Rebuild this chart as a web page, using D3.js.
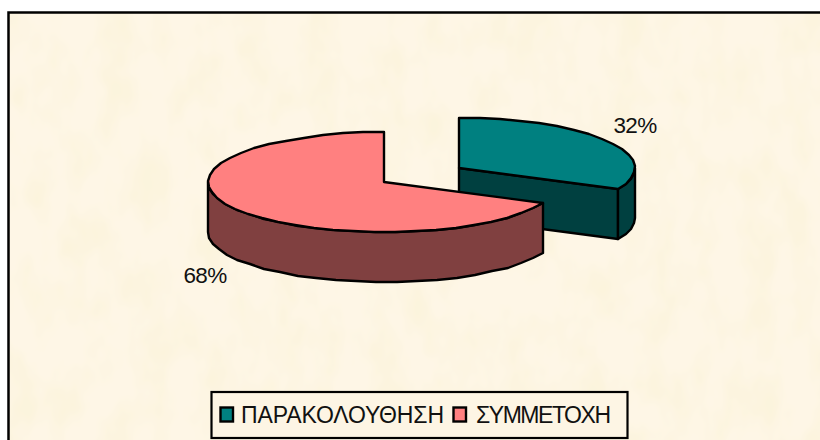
<!DOCTYPE html>
<html><head><meta charset="utf-8">
<script src="https://cdn.jsdelivr.net/npm/d3@7/dist/d3.min.js"></script>
<style>html,body{margin:0;padding:0;background:#fff}svg{display:block}</style>
</head><body><svg id="c" width="820" height="440"></svg>
<script>
const categories = ["ΠΑΡΑΚΟΛΟΥΘΗΣΗ", "ΣΥΜΜΕΤΟΧΗ"];
const values = [32, 68];
const labels = ["32%", "68%"];
const topColors = ["#008080", "#ff8080"];
const sideColors = ["#004040", "#804040"];

const svg = d3.select("#c");
const defs = svg.append("defs");
const f = defs.append("filter").attr("id","paper").attr("x",0).attr("y",0).attr("width","100%").attr("height","100%");
f.append("feTurbulence").attr("type","fractalNoise").attr("baseFrequency","0.03 0.018").attr("numOctaves",3).attr("seed",4).attr("stitchTiles","stitch");
f.append("feColorMatrix").attr("type","matrix").attr("values","0 0 0 0 0.97  0 0 0 0 0.90  0 0 0 0 0.72  2.2 0 0 0 -0.82");
f.append("feComposite").attr("in2","SourceGraphic").attr("operator","over");

svg.append("rect").attr("x",9).attr("y",13).attr("width",811).attr("height",427).attr("fill","#fef6e6").attr("filter","url(#paper)");
const frame = d3.path();
frame.moveTo(8.5,440); frame.lineTo(8.5,12.5); frame.lineTo(820,12.5);
svg.append("path").attr("d",frame.toString()).attr("fill","none").attr("stroke","#000").attr("stroke-width",2.5);

// pie geometry
const cx = 384, cy = 182, rx = 176, ry = 50, depth = 50;
const explode = {0:[75,-14],1:[0,0]};
const arcs = d3.pie().sort(null).value(d=>d)(values);
const px = d3.scaleLinear().domain([-1,1]).range([-rx,rx]);
const py = d3.scaleLinear().domain([-1,1]).range([-ry,ry]);
const pt = (a,o,dz=0)=>[Math.round(cx+o[0]+px(Math.sin(a))), Math.round(cy+o[1]+py(-Math.cos(a))+dz)];
const center = (o,dz=0)=>[cx+o[0], cy+o[1]+dz];
const line = d3.line();
const STEP = Math.PI/26;
function sweep(a0,a1,o,dz=0){
  const n = Math.max(1,Math.ceil(Math.abs(a1-a0)/STEP)), out=[];
  for(let i=0;i<=n;i++) out.push(pt(a0+(a1-a0)*i/n,o,dz));
  return out;
}
function draw(pts,fill){
  svg.append("path").attr("d",line(pts)+"Z").attr("fill",fill)
    .attr("stroke","#000").attr("stroke-width",2.4).attr("stroke-linejoin","round");
}
arcs.forEach((d,i)=>{
  const o = explode[i];
  if(i===0){
    draw([center(o),pt(d.endAngle,o),pt(d.endAngle,o,depth),center(o,depth)],sideColors[i]);
    const a=Math.PI/2, b=d.endAngle;
    draw([...sweep(a,b,o),...sweep(b,a,o,depth)],sideColors[i]);
  } else {
    const a=d.startAngle, b=3*Math.PI/2;
    draw([...sweep(a,b,o),...sweep(b,a,o,depth)],sideColors[i]);
  }
  draw([center(o),...sweep(d.startAngle,d.endAngle,o)],topColors[i]);
});

const font = "'Liberation Sans',Arial,sans-serif";
const labelPos = [[635,133],[205,283]];
labels.forEach((t,i)=>svg.append("text").attr("x",labelPos[i][0]).attr("y",labelPos[i][1]).attr("text-anchor","middle")
  .attr("font-family",font).attr("font-size",22.5).attr("letter-spacing",-0.6).attr("fill","#111").text(t));

// legend
svg.append("rect").attr("x",211.5).attr("y",392).attr("width",416).attr("height",46).attr("fill","#fdf5e4").attr("stroke","#000").attr("stroke-width",2.2);
const swatchX=[220.5,453.5], textX=[241,476], textLen=[203,135];
categories.forEach((c,i)=>{
  svg.append("rect").attr("x",swatchX[i]).attr("y",407.5).attr("width",12.5).attr("height",14).attr("fill",topColors[i]).attr("stroke","#000").attr("stroke-width",2.4);
  svg.append("text").attr("x",textX[i]).attr("y",422.5).attr("font-family",font).attr("font-size",23).attr("fill","#111")
    .attr("textLength",textLen[i]).attr("lengthAdjust","spacing").text(c);
});
</script></body></html>
